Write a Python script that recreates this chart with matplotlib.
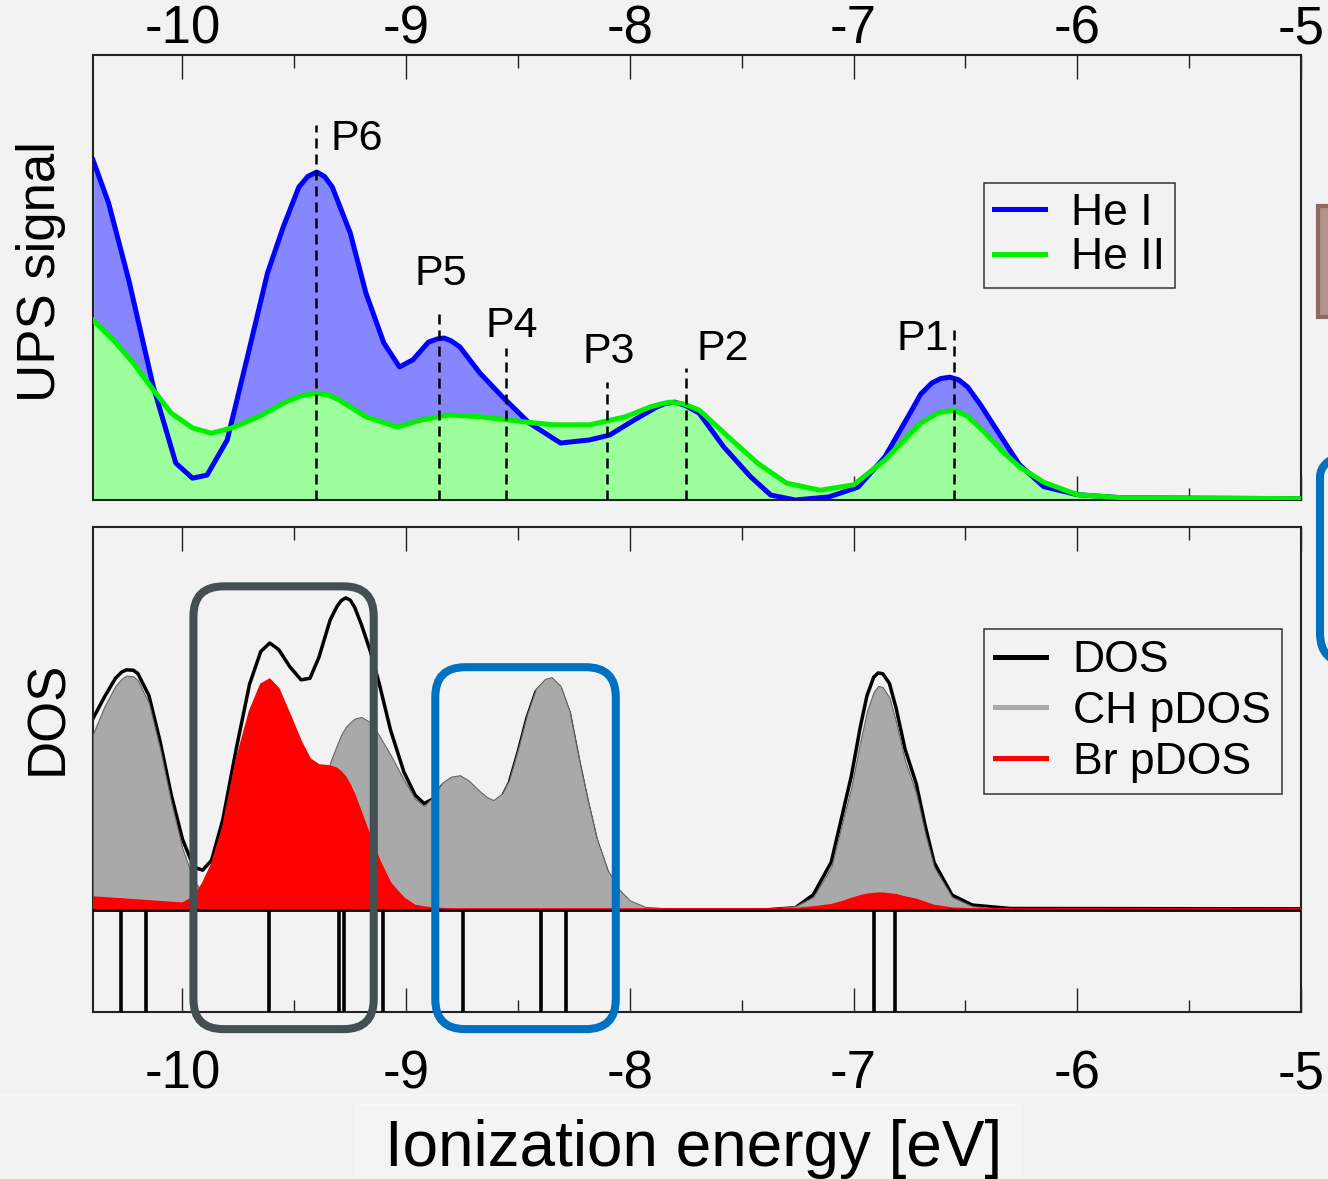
import numpy as np
import matplotlib.pyplot as plt
from matplotlib.patches import FancyBboxPatch, Rectangle
from matplotlib.lines import Line2D
from matplotlib.ticker import MultipleLocator

plt.rcParams['font.family'] = ['Liberation Sans', 'DejaVu Sans']

# UPS spectra (ionization energy in eV, signal in arb. units)
he1_x = [-10.40, -10.33, -10.24, -10.13, -10.03, -9.955, -9.89, -9.80, -9.71, -9.62,
         -9.55, -9.48, -9.44, -9.40, -9.365, -9.33, -9.25, -9.18, -9.10, -9.03,
         -8.97, -8.90, -8.86, -8.83, -8.80, -8.76, -8.67, -8.57, -8.45, -8.31,
         -8.18, -8.09, -7.98, -7.88, -7.84, -7.80, -7.75, -7.69, -7.58, -7.46,
         -7.37, -7.26, -7.11, -6.98, -6.86, -6.74, -6.70, -6.65, -6.61, -6.57,
         -6.53, -6.49, -6.43, -6.37, -6.26, -6.15, -6.00, -5.80, -5.00]
he1_y = [0.764, 0.667, 0.494, 0.254, 0.083, 0.049, 0.056, 0.135, 0.321, 0.510,
         0.613, 0.703, 0.727, 0.737, 0.727, 0.703, 0.600, 0.465, 0.353, 0.299,
         0.315, 0.355, 0.362, 0.364, 0.358, 0.344, 0.285, 0.232, 0.173, 0.128,
         0.135, 0.146, 0.180, 0.209, 0.217, 0.220, 0.212, 0.195, 0.119, 0.052,
         0.011, 0.000, 0.007, 0.029, 0.097, 0.202, 0.238, 0.263, 0.273, 0.276,
         0.270, 0.254, 0.212, 0.165, 0.080, 0.030, 0.012, 0.005, 0.003]

he2_x = [-10.40, -10.31, -10.22, -10.13, -10.05, -9.955, -9.87, -9.78, -9.66, -9.54,
         -9.47, -9.40, -9.35, -9.30, -9.18, -9.04, -8.93, -8.81, -8.67, -8.46,
         -8.34, -8.18, -8.02, -7.91, -7.86, -7.82, -7.76, -7.69, -7.56, -7.43,
         -7.30, -7.15, -7.00, -6.86, -6.78, -6.70, -6.62, -6.55, -6.49, -6.41,
         -6.34, -6.26, -6.15, -6.00, -5.80, -5.00]
he2_y = [0.404, 0.360, 0.308, 0.247, 0.195, 0.162, 0.150, 0.162, 0.187, 0.220,
         0.234, 0.240, 0.236, 0.225, 0.187, 0.164, 0.180, 0.191, 0.187, 0.175,
         0.169, 0.169, 0.187, 0.209, 0.216, 0.220, 0.216, 0.202, 0.142, 0.083,
         0.038, 0.022, 0.034, 0.090, 0.132, 0.173, 0.196, 0.202, 0.188, 0.150,
         0.112, 0.075, 0.040, 0.012, 0.005, 0.003]

# peak markers
peak_names = ['P6', 'P5', 'P4', 'P3', 'P2', 'P1']
peak_x = [-9.405, -8.855, -8.553, -8.103, -7.751, -6.549]
peak_top = [0.843, 0.422, 0.342, 0.265, 0.297, 0.382]
label_x = [-9.219, -8.846, -8.528, -8.094, -7.584, -6.691]
label_y = [0.787, 0.483, 0.366, 0.308, 0.315, 0.337]

# calculated DOS
dos_x = [-10.40, -10.35, -10.30, -10.27, -10.25, -10.22, -10.20, -10.15, -10.10, -10.05,
         -10.00, -9.95, -9.91, -9.87, -9.82, -9.76, -9.70, -9.65, -9.61, -9.57,
         -9.52, -9.47, -9.43, -9.39, -9.34, -9.31, -9.29, -9.27, -9.25, -9.23,
         -9.20, -9.16, -9.12, -9.07, -9.01, -8.96, -8.92, -8.88, -8.84, -8.80,
         -8.76, -8.72, -8.68, -8.64, -8.61, -8.57, -8.54, -8.50, -8.46, -8.42,
         -8.38, -8.35, -8.31, -8.27, -8.23, -8.19, -8.15, -8.10, -8.05, -8.00,
         -7.93, -7.80, -7.40, -7.26, -7.18, -7.10, -7.05, -7.01, -6.97, -6.94,
         -6.91, -6.89, -6.87, -6.84, -6.81, -6.77, -6.72, -6.68, -6.64, -6.56,
         -6.47, -6.30, -5.00]
ch_pdos = [0.460, 0.530, 0.585, 0.605, 0.612, 0.610, 0.600, 0.540, 0.420, 0.280,
           0.160, 0.078, 0.045, 0.030, 0.030, 0.040, 0.060, 0.080, 0.090, 0.100,
           0.120, 0.160, 0.200, 0.270, 0.385, 0.430, 0.458, 0.478, 0.490, 0.500,
           0.504, 0.490, 0.455, 0.405, 0.340, 0.290, 0.272, 0.295, 0.332, 0.348,
           0.352, 0.338, 0.315, 0.295, 0.287, 0.305, 0.339, 0.420, 0.510, 0.578,
           0.603, 0.608, 0.585, 0.520, 0.400, 0.290, 0.190, 0.105, 0.055, 0.025,
           0.008, 0.002, 0.002, 0.010, 0.034, 0.112, 0.230, 0.321, 0.440, 0.520,
           0.570, 0.585, 0.582, 0.555, 0.490, 0.390, 0.305, 0.200, 0.112, 0.034,
           0.010, 0.002, 0.001]
br_pdos = [0.034, 0.032, 0.030, 0.029, 0.028, 0.027, 0.026, 0.024, 0.022, 0.020,
           0.018, 0.034, 0.070, 0.120, 0.217, 0.392, 0.520, 0.590, 0.603, 0.578,
           0.510, 0.440, 0.395, 0.379, 0.376, 0.370, 0.360, 0.347, 0.325, 0.300,
           0.253, 0.190, 0.130, 0.070, 0.031, 0.012, 0.008, 0.005, 0.004, 0.003,
           0.003, 0.003, 0.003, 0.003, 0.003, 0.003, 0.003, 0.003, 0.003, 0.003,
           0.003, 0.003, 0.003, 0.003, 0.003, 0.003, 0.003, 0.003, 0.003, 0.003,
           0.003, 0.003, 0.003, 0.004, 0.008, 0.014, 0.022, 0.030, 0.037, 0.041,
           0.043, 0.044, 0.044, 0.042, 0.040, 0.034, 0.028, 0.020, 0.012, 0.005,
           0.003, 0.003, 0.003]
dos = [0.500, 0.555, 0.605, 0.622, 0.627, 0.626, 0.618, 0.560, 0.440, 0.300,
       0.185, 0.112, 0.104, 0.130, 0.235, 0.420, 0.590, 0.675, 0.697, 0.680,
       0.635, 0.601, 0.605, 0.660, 0.757, 0.792, 0.808, 0.815, 0.809, 0.790,
       0.745, 0.675, 0.590, 0.470, 0.360, 0.300, 0.278, 0.290, 0.324, 0.340,
       0.344, 0.330, 0.307, 0.287, 0.279, 0.297, 0.331, 0.412, 0.502, 0.570,
       0.595, 0.600, 0.577, 0.512, 0.392, 0.282, 0.182, 0.097, 0.047, 0.017,
       0.002, 0.000, 0.000, 0.006, 0.040, 0.125, 0.250, 0.350, 0.478, 0.560,
       0.608, 0.619, 0.617, 0.592, 0.527, 0.420, 0.330, 0.220, 0.124, 0.039,
       0.013, 0.004, 0.003]

# eigenvalues
sticks = [-10.277, -10.161, -9.614, -9.300, -9.280, -9.102, -8.748, -8.396, -8.285,
          -6.908, -6.815]

majors = [-10, -9, -8, -7, -6, -5]
bg = '#f2f2f2'

fig = plt.figure(figsize=(13.28, 11.79), dpi=100, facecolor=bg)
ax1 = fig.add_axes([93/1328, 1-500/1179, 1208/1328, 445/1179], facecolor=bg)
ax2 = fig.add_axes([93/1328, 1-1012/1179, 1208/1328, 485/1179], facecolor=bg)

for ax in (ax1, ax2):
    ax.set_xlim(-10.4, -5.0)
    ax.set_xticks(majors)
    ax.set_xticklabels([str(m) for m in majors])
    ax.xaxis.set_minor_locator(MultipleLocator(0.5))
    ax.set_yticks([])
    ax.tick_params(axis='x', which='both', direction='in', top=True, bottom=True,
                   color='#222222', labelsize=38)
    ax.tick_params(axis='x', which='major', length=17, width=1.0)
    ax.tick_params(axis='x', which='minor', length=9, width=1.0)
    for s in ax.spines.values():
        s.set_linewidth(1.5)
        s.set_color('#222222')

ax1.tick_params(axis='x', which='both', labeltop=True, labelbottom=False, pad=0.5)
ax2.tick_params(axis='x', which='both', labeltop=False, labelbottom=True, pad=27)

# ---- UPS panel ----
ax1.set_ylim(0, 1.0)
ax1.fill_between(he1_x, he1_y, 0, facecolor='#8686ff', edgecolor='white', lw=1, zorder=1)
ax1.fill_between(he2_x, he2_y, 0, facecolor='#9cff9c', edgecolor='white', lw=1, zorder=2)
ax1.plot(he1_x, he1_y, color='#0000ff', lw=3.6, zorder=3, solid_joinstyle='round')
ax1.plot(he2_x, he2_y, color='#00f000', lw=3.6, zorder=3.5, solid_joinstyle='round')
for name, px, top, lx, ly in zip(peak_names, peak_x, peak_top, label_x, label_y):
    ax1.plot([px, px], [0, top], color='black', lw=1.8, ls=(0, (4, 2.4)), zorder=4)
    ax1.text(lx, ly, name, fontsize=31, ha='center', va='baseline', zorder=5)

leg1 = ax1.legend([Line2D([], [], color='#0000ff', lw=3.6),
                   Line2D([], [], color='#00f000', lw=3.6)],
                  ['He I', 'He II'], loc='upper left',
                  bbox_to_anchor=(0.7374, 0.7124), borderaxespad=0, fontsize=32,
                  fancybox=False, framealpha=1, facecolor=bg, edgecolor='#333333',
                  labelspacing=0.08, borderpad=0.22, handlelength=1.15,
                  handletextpad=0.6)
leg1.get_frame().set_linewidth(1.1)

# ---- DOS panel ----
ybot = -0.2663
ax2.set_ylim(ybot, 1.0)
ax2.plot(dos_x, dos, color='black', lw=2.5, zorder=2, solid_joinstyle='round')
ax2.fill_between(dos_x, ch_pdos, 0, facecolor='#a9a9a9', edgecolor='#666666', lw=0.8, zorder=3)
ax2.fill_between(dos_x, br_pdos, 0, facecolor='#ff0000', edgecolor='#ff0000', lw=0.8, zorder=4)
ax2.axhline(0, color='black', lw=2.0, zorder=4.5)
ax2.plot(dos_x, br_pdos, color='#ff0000', lw=1.0, zorder=4.6)
ax2.vlines(sticks, ybot, 0, color='black', lw=2.6, zorder=5)

leg2 = ax2.legend([Line2D([], [], color='black', lw=3.6),
                   Line2D([], [], color='#aaaaaa', lw=3.6),
                   Line2D([], [], color='#ff0000', lw=3.6)],
                  ['DOS', 'CH pDOS', 'Br pDOS'], loc='upper left',
                  bbox_to_anchor=(0.7374, 0.7897), borderaxespad=0, fontsize=32,
                  fancybox=False, framealpha=1, facecolor=bg, edgecolor='#333333',
                  labelspacing=0.22, borderpad=0.25, handlelength=1.15,
                  handletextpad=0.6)
leg2.get_frame().set_linewidth(1.1)

# highlight boxes (data coords, circular corners)
aspect = (1/383) / (1/223.5)
for x0, x1, y0, y1, col in [(-9.951, -9.145, -0.311, 0.845, '#454f52'),
                            (-8.870, -8.063, -0.311, 0.634, '#0070c0')]:
    box = FancyBboxPatch((x0, y0), x1 - x0, y1 - y0,
                         boxstyle='round,pad=0,rounding_size=0.134',
                         mutation_aspect=aspect, facecolor='none', edgecolor=col,
                         lw=5.8, clip_on=False, zorder=10)
    ax2.add_patch(box)

# y labels
fig.text(55/1328, 1-272/1179, 'UPS signal', rotation=90, rotation_mode='anchor',
         ha='center', va='baseline', fontsize=38)
fig.text(62/1328, 1-718/1179, 'DOS', rotation=90, rotation_mode='anchor',
         ha='center', va='baseline', fontsize=38)

# x label on a faint lighter panel
fig.add_artist(Rectangle((356/1328, 0), 663/1328, 75/1179, transform=fig.transFigure,
                         facecolor='#f4f4f4', edgecolor='#f8f8f8', lw=1, zorder=0))
fig.add_artist(Line2D([0, 1], [1-1095/1179]*2, transform=fig.transFigure,
                      color='#f8f8f8', lw=1.2, zorder=0))
fig.text(694/1328, 1-1166/1179, 'Ionization energy [eV]', ha='center', va='baseline',
         fontsize=46)

# cut-off pieces of neighbouring panel at right edge
fig.add_artist(Rectangle((1318/1328, 1-317/1179), 30/1328, 111/1179,
                         transform=fig.transFigure, facecolor='#b39388',
                         edgecolor='#8c6a5e', lw=3, clip_on=False))
fig.add_artist(FancyBboxPatch((1320/1328, 1-663/1179), 120/1328, 216/1179,
                              boxstyle='round,pad=0,rounding_size=0.0226',
                              mutation_aspect=1328/1179, transform=fig.transFigure,
                              facecolor='none', edgecolor='#0070c0', lw=5.8))

fig.savefig('out.png', dpi=100, facecolor=bg)
